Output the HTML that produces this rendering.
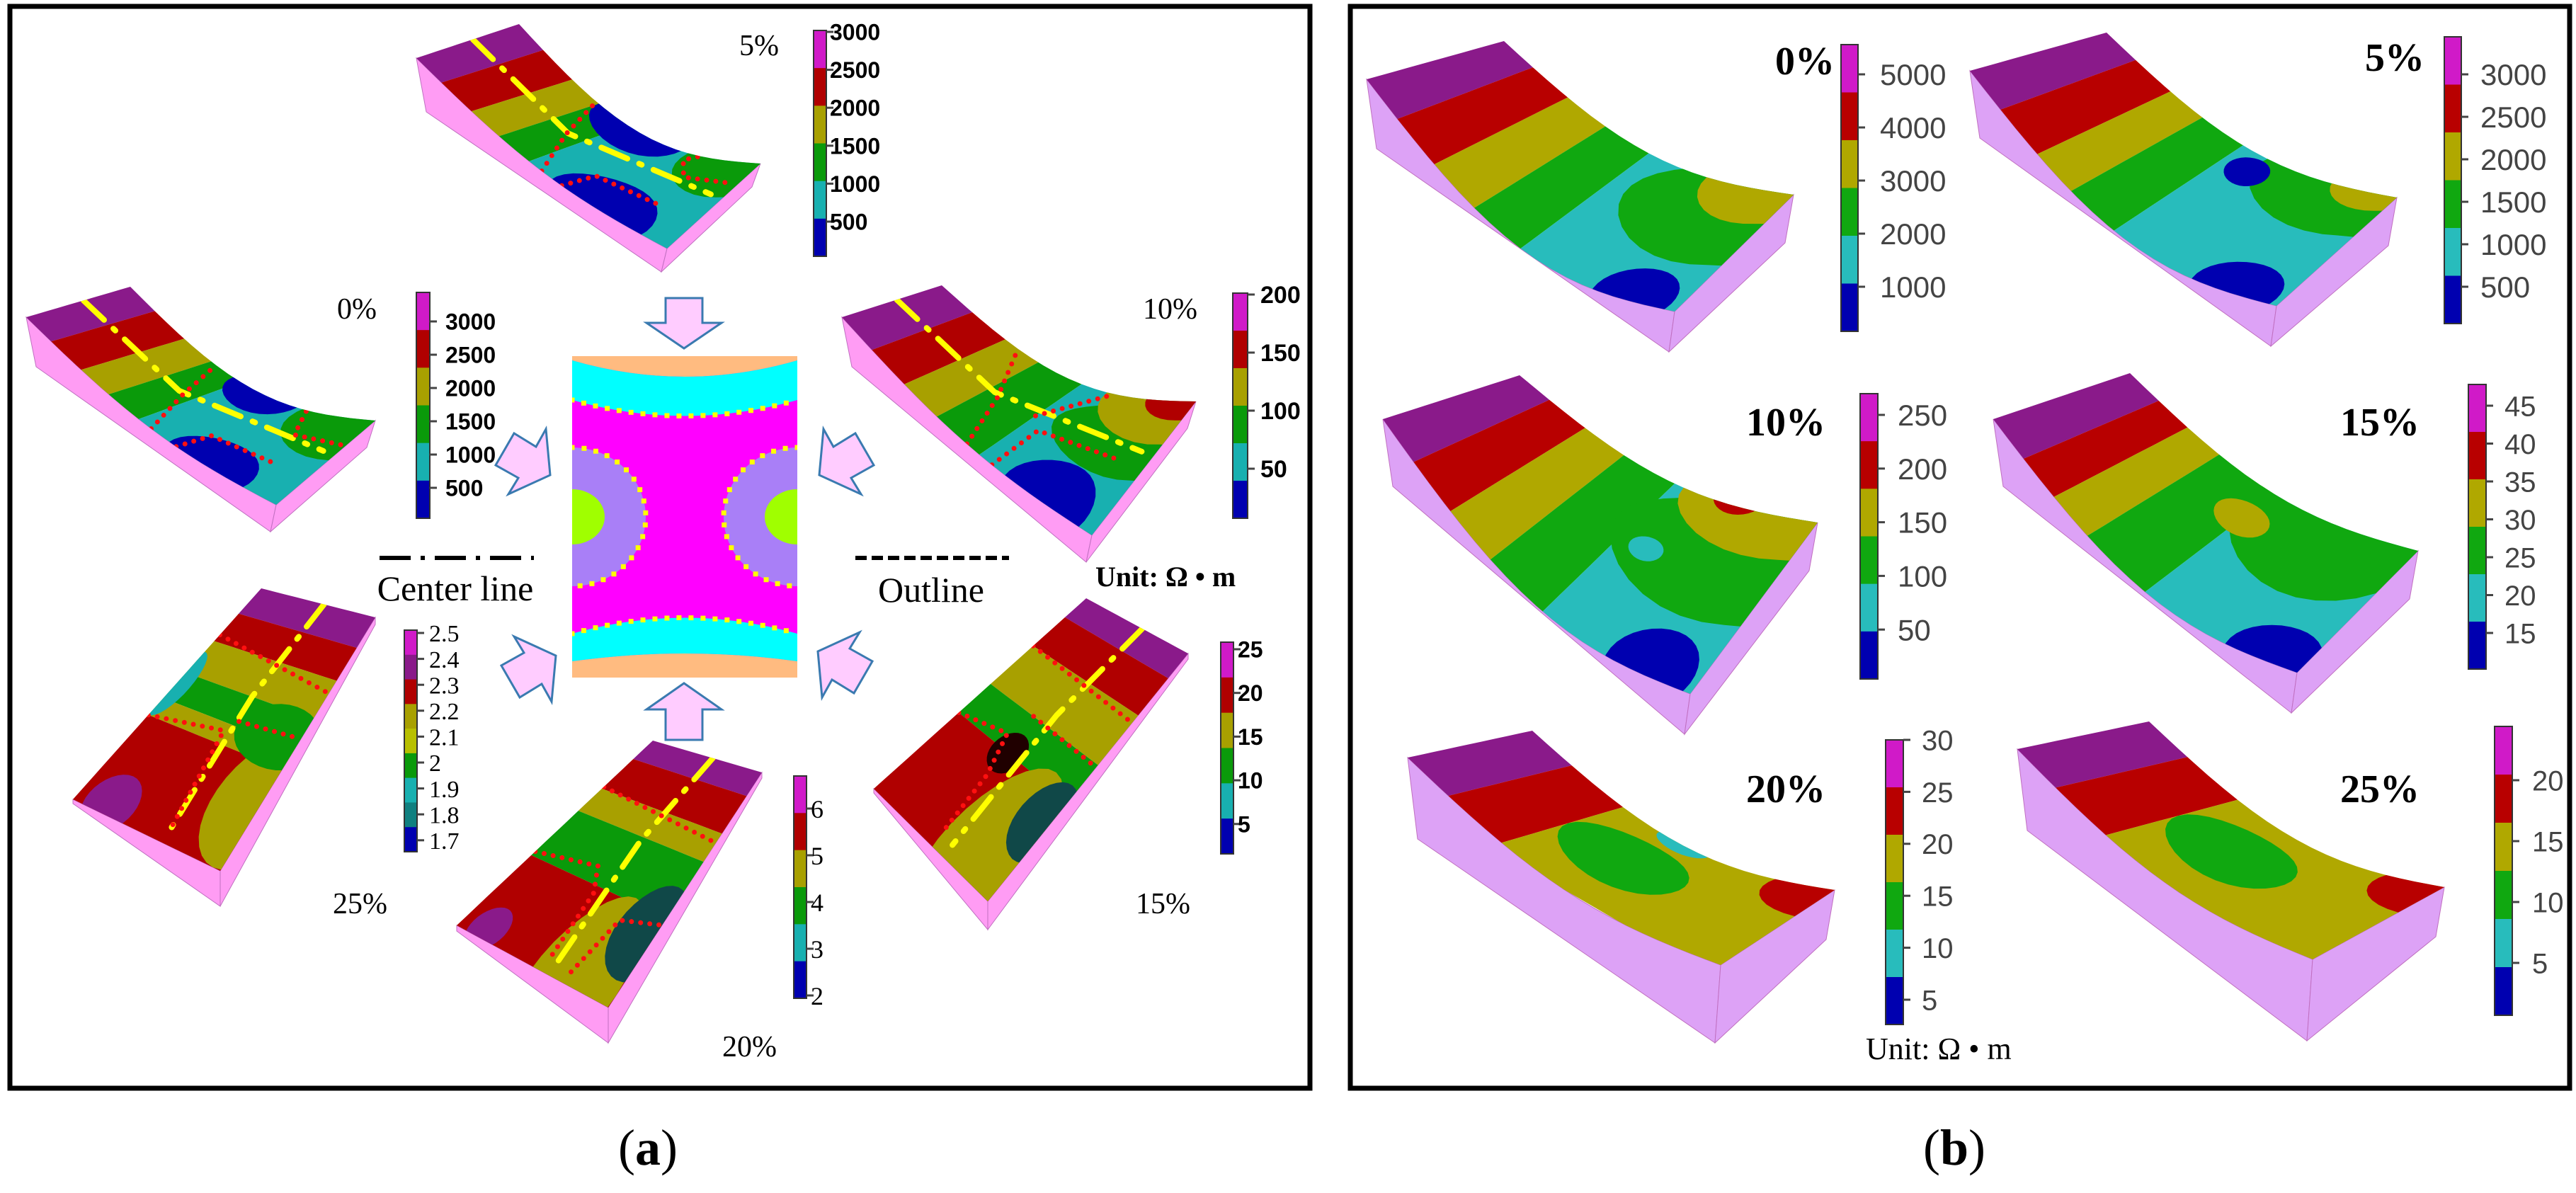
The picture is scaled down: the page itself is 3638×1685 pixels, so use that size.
<!DOCTYPE html>
<html><head><meta charset="utf-8">
<style>
html,body{margin:0;padding:0;background:#fff;}
svg{display:block;}
</style></head>
<body>
<svg id="fig" xmlns="http://www.w3.org/2000/svg" width="3638" height="1685" viewBox="0 0 3638 1685">
<rect x="0" y="0" width="3638" height="1685" fill="#fff"/>
<rect x="14" y="9" width="1836" height="1528" fill="none" stroke="#000" stroke-width="7"/>
<rect x="1907" y="9" width="1722" height="1528" fill="none" stroke="#000" stroke-width="7"/>
<g id="layer"></g>
<g>
  <defs><clipPath id="rc"><rect x="808" y="503" width="318" height="454"/></clipPath></defs>
  <g clip-path="url(#rc)">
    <rect x="808" y="503" width="318" height="454" fill="#ff00ff"/>
    <path d="M808,503 H1126 V509 Q967,555 808,509 Z" fill="#ffbb80"/>
    <path d="M808,509 Q967,555 1126,509 V565 Q967,610 808,565 Z" fill="#00ffff"/>
    <path d="M808,957 H1126 V934 Q967,912 808,934 Z" fill="#ffbb80"/>
    <path d="M808,934 Q967,912 1126,934 V895 Q967,850 808,895 Z" fill="#00ffff"/>
    <ellipse cx="808" cy="730" rx="104" ry="98" fill="#a97ff7"/>
    <ellipse cx="808" cy="730" rx="46" ry="39" fill="#a0ff00"/>
    <ellipse cx="1126" cy="730" rx="104" ry="98" fill="#a97ff7"/>
    <ellipse cx="1126" cy="730" rx="46" ry="39" fill="#a0ff00"/>
    <g fill="none" stroke="#ffff00" stroke-width="7" stroke-dasharray="0 17" stroke-linecap="square">
      <path d="M808,565 Q967,610 1126,565"/>
      <path d="M808,895 Q967,850 1126,895"/>
      <path d="M808,632 A104,98 0 0 1 808,828"/>
      <path d="M1126,632 A104,98 0 0 0 1126,828"/>
    </g>
  </g>
</g>
<g id="arrows"></g>
<g>
  <line x1="536" y1="788" x2="754" y2="788" stroke="#000" stroke-width="6" stroke-dasharray="44 14 6 14"/>
  <text x="643" y="848" text-anchor="middle" font-family="Liberation Serif, serif" font-size="50" fill="#000">Center line</text>
  <line x1="1208" y1="788" x2="1425" y2="788" stroke="#000" stroke-width="6" stroke-dasharray="16 7"/>
  <text x="1315" y="850" text-anchor="middle" font-family="Liberation Serif, serif" font-size="50" fill="#000">Outline</text>
  <text x="1547" y="828" font-family="Liberation Serif, serif" font-weight="bold" font-size="40" fill="#000">Unit: Ω • m</text>
  <text x="2635" y="1496" font-family="Liberation Serif, serif" font-size="44" fill="#000">Unit: Ω • m</text>
</g>
<text x="915" y="1645" text-anchor="middle" font-family="Liberation Serif, serif" font-size="72" fill="#000">(<tspan font-weight="bold">a</tspan>)</text>
<text x="2760" y="1645" text-anchor="middle" font-family="Liberation Serif, serif" font-size="72" fill="#000">(<tspan font-weight="bold">b</tspan>)</text>
</svg>
<script>
// ---- colorbar tick data ----
const ticksA0 = ["3000","2500","2000","1500","1000","500"];
const ticksA5 = ["3000","2500","2000","1500","1000","500"];
const ticksA10 = ["200","150","100","50"];
const ticksA15 = ["25","20","15","10","5"];
const ticksA20 = ["6","5","4","3","2"];
const ticksA25 = ["2.5","2.4","2.3","2.2","2.1","2","1.9","1.8","1.7"];
const ticksB0 = ["5000","4000","3000","2000","1000"];
const ticksB5 = ["3000","2500","2000","1500","1000","500"];
const ticksB10 = ["250","200","150","100","50"];
const ticksB15 = ["45","40","35","30","25","20","15"];
const ticksB20 = ["30","25","20","15","10","5"];
const ticksB25 = ["20","15","10","5"];
const percentLabels = ["0%","5%","10%","15%","20%","25%"];

const NS = "http://www.w3.org/2000/svg";
const layer = document.getElementById('layer');
function mk(tag, attrs, parent){
  const e = document.createElementNS(NS, tag);
  for (const k in attrs) e.setAttribute(k, attrs[k]);
  (parent||layer).appendChild(e);
  return e;
}
const C = {P:'#8a1a8a',M:'#d01ac8',R:'#b00000',O:'#a8a000',G:'#0a9a0a',Y:'#b8c000',
           Cy:'#18b0b0',B:'#0000b0',Rb:'#b80000',Ob:'#b0a800',Gb:'#10a810',Cb:'#28bcbc'};
const pinkA = '#ff9cf4', pinkB = '#dda2f6';

function surf(q,s,u,v){
  const [A,B,Cc,D]=q;
  const top=[A[0]+(B[0]-A[0])*u, A[1]+(B[1]-A[1])*u];
  const bot=[D[0]+(Cc[0]-D[0])*u, D[1]+(Cc[1]-D[1])*u];
  const sg = Math.sin(Math.PI*Math.min(Math.max(v,0),1))*(s[0]*(1-u)+s[1]*u);
  return [top[0]+(bot[0]-top[0])*v, top[1]+(bot[1]-top[1])*v + sg];
}
function ptsStr(a){return a.map(p=>p[0].toFixed(1)+','+p[1].toFixed(1)).join(' ');}
let clipId=0;
// o: {s:[sagL,sagR], faces:[...]} or {s, db, dl, dr} auto faces (left + front)
function block(id, q, o, pink, bands, blobs, lines){
  const s = o.s||[0,0];
  const g = mk('g',{});
  
  
  let faces = o.faces;
  if(!faces){
    const le=[]; for(let i=0;i<=20;i++) le.push(surf(q,s,0,i/20));
    const D=q[3], A=q[0], Cc=q[2];
    faces=[le.concat([[D[0]-8,D[1]+o.dl],[A[0]+14,A[1]+o.db]]),
           [D,Cc,[Cc[0]-12,Cc[1]+o.dr],[D[0]-8,D[1]+o.dl]]];
  }
  faces.forEach(f=>{
    const fp = mk('polygon',{points:ptsStr(f),fill:pink,stroke:'#c070c0','stroke-width':1},g);
    
    
  });
  const outline=[];
  for(let i=0;i<=10;i++) outline.push(surf(q,s,i/10,0));
  for(let i=0;i<=20;i++) outline.push(surf(q,s,1,i/20));
  for(let i=10;i>=0;i--) outline.push(surf(q,s,i/10,1));
  for(let i=20;i>=0;i--) outline.push(surf(q,s,0,i/20));
  const cid='cl'+(clipId++);
  const cp = mk('clipPath',{id:cid},g);
  mk('polygon',{points:ptsStr(outline)},cp);
  const tg = mk('g',{'clip-path':'url(#'+cid+')'},g);
  let v0=-0.05;
  bands.forEach(b=>{
    const v1=b[0]===1?1.05:b[0];
    const poly=[];
    for(let i=0;i<=10;i++) poly.push(surf(q,s,-0.1+1.2*i/10,v0));
    for(let i=10;i>=0;i--) poly.push(surf(q,s,-0.1+1.2*i/10,v1));
    const bp = mk('polygon',{points:ptsStr(poly),fill:b[1]},tg);
    
    
    v0=v1;
  });
  (blobs||[]).forEach(b=>{
    const pts=[];
    for(let i=0;i<32;i++){const t=i/32*Math.PI*2;pts.push(surf(q,s,b[0]+b[2]*Math.cos(t),b[1]+b[3]*Math.sin(t)));}
    const bl = mk('polygon',{points:ptsStr(pts),fill:b[4]},tg);
    
    
  });
  (lines||[]).forEach(l=>{
    const pts=l.pts.map(p=>surf(q,s,p[0],p[1]));
    const ln = mk('polyline',{points:ptsStr(pts),fill:'none',stroke:l.c,'stroke-width':l.w,'stroke-dasharray':l.d,'stroke-linecap':'round'},tg);
    
    
  });
}
function colorbar(id, x, y0, y1, w, colors, ticks, tickYs, font, size, weight, fill, labelX){
  const g = mk('g',{});
  
  
  const h=(y1-y0)/colors.length;
  colors.forEach((c,i)=>{
    const r = mk('rect',{x:x,y:y0+i*h,width:w,height:h+0.5,fill:c},g);
    
    
  });
  mk('rect',{x:x,y:y0,width:w,height:y1-y0,fill:'none',stroke:'#333','stroke-width':2},g);
  ticks.forEach((t,i)=>{
    const ty = tickYs(i);
    mk('line',{x1:x+w,y1:ty,x2:x+w+10,y2:ty,stroke:'#444','stroke-width':3},g);
    const tx = mk('text',{x:labelX,y:ty+size*0.36,'font-family':font,'font-size':size,'font-weight':weight,fill:fill},g);
    
    
    tx.textContent=t;
  });
}
function label(id, txt, x, y, size, bold){
  const t = mk('text',{x:x,y:y,'font-family':'Liberation Serif, serif','font-size':size,'font-weight':bold?'bold':'normal',fill:'#000'});
  
  
  t.textContent=txt;
}
const cl = {c:'#ffff00',w:8,d:'40 18 4 18',pts:[[0.55,0.0],[0.52,0.4],[0.6,0.95]]};
const rd = (pts)=>({c:'#ff1010',w:7,d:'0 13',pts:pts});
function off(p,dx,dy){return [p[0]+dx,p[1]+dy];}
const fsA='Liberation Sans, sans-serif';

// ===== Panel (a) =====
let q;
q=[[588,82],[733,34],[1074,231],[942,351]];
block('plot-a-5pct',q,{s:[25,55],db:76,dl:33,dr:33},pinkA,
 [[0.1,C.P],[0.22,C.R],[0.33,C.O],[0.45,C.G],[1,C.Cy]],
 [[0.05,0.72,0.35,0.18,C.B],[1.0,0.5,0.3,0.17,C.B],[1.0,0.9,0.45,0.2,C.G]],
 [cl,rd([[0,0.5],[0.5,0.4],[1,0.32]]),rd([[0,0.58],[0.3,0.6],[0.33,0.85]]),rd([[0.75,0.95],[0.7,0.8],[0.9,0.72],[1,0.75]])]);
colorbar('colorbar-a-5pct',1149,43,362,18,[C.M,C.R,C.O,C.G,C.Cy,C.B],ticksA5,i=>45+i*53.6,fsA,32,'bold','#000',1172);
label('label-a-5pct',percentLabels[1],1044,78,42,false);

q=[[37,448],[184,405],[530,594],[390,713]];
block('plot-a-0pct',q,{s:[25,50],db:70,dl:38,dr:38},pinkA,
 [[0.1,C.P],[0.22,C.R],[0.33,C.O],[0.45,C.G],[1,C.Cy]],
 [[0.05,0.72,0.3,0.15,C.B],[1.0,0.55,0.28,0.13,C.B],[0.95,0.92,0.45,0.22,C.G]],
 [cl,rd([[0,0.5],[0.5,0.42],[1,0.35]]),rd([[0,0.6],[0.3,0.62],[0.33,0.85]]),rd([[0.7,0.98],[0.68,0.8],[1,0.72]])]);
colorbar('colorbar-a-0pct',588,413,732,19,[C.M,C.R,C.O,C.G,C.Cy,C.B],ticksA0,i=>454+i*47,fsA,32,'bold','#000',629);
label('label-a-0pct',percentLabels[0],476,450,42,false);

q=[[1189,448],[1330,403],[1689,567],[1542,756]];
block('plot-a-10pct',q,{s:[25,50],db:70,dl:38,dr:38},pinkA,
 [[0.12,C.P],[0.25,C.R],[0.38,C.O],[0.55,C.G],[1,C.Cy]],
 [[0.05,0.8,0.3,0.15,C.B],[0.65,0.85,0.3,0.25,C.G],[1.0,0.9,0.35,0.25,C.O],[1.05,0.95,0.2,0.15,C.R]],
 [cl,rd([[0,0.5],[0.5,0.42],[1,0.3]]),rd([[0,0.6],[0.45,0.6],[0.5,0.9]]),rd([[0.55,0.55],[1,0.68]])]);
colorbar('colorbar-a-10pct',1741,414,732,21,[C.M,C.R,C.O,C.G,C.Cy,C.B],ticksA10,i=>416+i*82,fsA,34,'bold','#000',1780);
label('label-a-10pct',percentLabels[2],1614,450,42,false);

q=[[369,831],[530,872],[311,1230],[103,1129]];
block('plot-a-25pct',q,{faces:[[q[3],q[2],off(q[2],0,50),off(q[3],0,6)],[q[2],q[1],off(q[1],0,10),off(q[2],0,50)]]},pinkA,
 [[0.12,C.P],[0.25,C.R],[0.4,C.O],[0.52,C.G],[0.6,C.O],[1,C.R]],
 [[0.0,0.45,0.1,0.15,C.Cy],[0.2,0.95,0.15,0.12,C.P],[0.95,0.75,0.25,0.25,C.O],[0.85,0.5,0.3,0.12,C.G]],
 [cl,rd([[0,0.22],[1,0.3]]),rd([[0,0.6],[0.5,0.55],[0.6,0.95]]),rd([[0.55,0.5],[1,0.48]])]);
colorbar('colorbar-a-25pct',571,890,1203,18,[C.M,C.P,C.R,C.O,C.Y,C.G,C.Cy,'#108080',C.B],ticksA25,i=>894+i*36.6,'Liberation Serif, serif',34,'normal','#000',606);
label('label-a-25pct',percentLabels[5],470,1290,42,false);

q=[[922,1046],[1076,1091],[859,1423],[645,1307]];
block('plot-a-20pct',q,{faces:[[q[3],q[2],off(q[2],0,50),off(q[3],0,8)],[q[2],q[1],off(q[1],0,8),off(q[2],0,50)]]},pinkA,
 [[0.1,C.P],[0.26,C.R],[0.38,C.O],[0.62,C.G],[1,C.R]],
 [[0.15,0.95,0.1,0.1,C.P],[0.75,0.95,0.25,0.35,C.O],[0.95,0.7,0.2,0.2,'#104848']],
 [cl,rd([[0,0.25],[1,0.3]]),rd([[0,0.6],[0.4,0.55],[0.5,0.65],[0.55,0.95]]),rd([[0.7,0.95],[0.75,0.7],[1,0.65]])]);
colorbar('colorbar-a-20pct',1121,1096,1410,18,[C.M,C.R,C.O,C.G,C.Cy,C.B],ticksA20,i=>1142+i*66,'Liberation Serif, serif',36,'normal','#000',1145);
label('label-a-20pct',percentLabels[4],1020,1492,42,false);

q=[[1534,845],[1678,923],[1395,1273],[1234,1114]];
block('plot-a-15pct',q,{faces:[[q[3],q[2],off(q[2],0,40),off(q[3],0,6)],[q[2],q[1],off(q[1],0,8),off(q[2],0,40)]]},pinkA,
 [[0.1,C.P],[0.25,C.R],[0.45,C.O],[0.6,C.G],[1,C.R]],
 [[0.8,0.9,0.3,0.35,C.O],[0.95,0.7,0.18,0.15,'#104848'],[0.45,0.6,0.12,0.08,'#200000']],
 [cl,rd([[0,0.25],[1,0.28]]),rd([[0,0.6],[0.35,0.55],[0.45,0.7],[0.5,0.95]]),rd([[0.4,0.45],[1,0.46]])]);
colorbar('colorbar-a-15pct',1724,907,1206,18,[C.M,C.R,C.O,C.G,C.Cy,C.B],ticksA15,i=>917+i*61.7,fsA,32,'bold','#000',1748);
label('label-a-15pct',percentLabels[3],1604,1290,42,false);

// ===== Panel (b) =====
const fs='Liberation Sans, sans-serif';
block('plot-b-0pct',[[1930,112],[2124,58],[2533,275],[2365,440]],{s:[75,50],db:98,dl:57,dr:68},pinkB,
 [[0.1,C.P],[0.22,C.Rb],[0.35,C.Ob],[0.5,C.Gb],[1,C.Cb]],
 [[0.05,0.85,0.22,0.12,C.B],[0.75,0.85,0.4,0.3,C.Gb],[1.0,0.9,0.28,0.2,C.Ob]]);
colorbar('colorbar-b-0pct',2600,63,468,24,[C.M,C.Rb,C.Ob,C.Gb,C.Cb,C.B],ticksB0,i=>105+i*75,fs,42,'normal','#444',2655);
label('label-b-0pct',percentLabels[0],2507,105,56,true);

block('plot-b-5pct',[[2782,100],[2975,46],[3385,279],[3215,432]],{s:[70,50],db:95,dl:57,dr:68},pinkB,
 [[0.1,C.P],[0.22,C.Rb],[0.33,C.Ob],[0.47,C.Gb],[1,C.Cb]],
 [[0.05,0.85,0.22,0.13,C.B],[0.95,0.85,0.35,0.3,C.Gb],[1.05,0.92,0.2,0.15,C.Ob],[0.85,0.55,0.12,0.06,C.B]]);
colorbar('colorbar-b-5pct',3452,52,457,24,[C.M,C.Rb,C.Ob,C.Gb,C.Cb,C.B],ticksB5,i=>105+i*60,fs,42,'normal','#444',3503);
label('label-b-5pct',percentLabels[1],3340,100,56,true);

block('plot-b-10pct',[[1953,592],[2146,530],[2567,738],[2387,980]],{s:[70,45],db:95,dl:57,dr:68},pinkB,
 [[0.1,C.P],[0.22,C.Rb],[0.35,C.Ob],[0.52,C.Gb],[1,C.Cb]],
 [[0.05,0.85,0.22,0.13,C.B],[0.7,0.82,0.35,0.35,C.Gb],[1.0,0.85,0.25,0.3,C.Ob],[1.05,0.72,0.1,0.08,C.Rb],[0.6,0.6,0.07,0.05,C.Cb]]);
colorbar('colorbar-b-10pct',2627,556,959,25,[C.M,C.Rb,C.Ob,C.Gb,C.Cb,C.B],ticksB10,i=>586+i*75.8,fs,42,'normal','#444',2680);
label('label-b-10pct',percentLabels[2],2466,615,56,true);

block('plot-b-15pct',[[2815,592],[3008,527],[3415,778],[3244,950]],{s:[65,45],db:95,dl:57,dr:68},pinkB,
 [[0.1,C.P],[0.2,C.Rb],[0.31,C.Ob],[0.5,C.Gb],[1,C.Cb]],
 [[0.05,0.9,0.22,0.14,C.B],[0.9,0.75,0.45,0.3,C.Gb],[0.75,0.5,0.12,0.08,C.Ob]]);
colorbar('colorbar-b-15pct',3486,543,945,25,[C.M,C.Rb,C.Ob,C.Gb,C.Cb,C.B],ticksB15,i=>573+i*53.5,fs,40,'normal','#444',3537);
label('label-b-15pct',percentLabels[3],3305,615,56,true);

block('plot-b-20pct',[[1988,1070],[2164,1032],[2591,1257],[2430,1363]],{s:[40,50],db:115,dl:110,dr:70},pinkB,
 [[0.13,C.P],[0.3,C.Rb],[1,C.Ob]],
 [[0.55,0.48,0.3,0.18,C.Gb],[0.95,1.0,0.3,0.2,C.Rb],[1.0,0.5,0.1,0.08,C.Cb]]);
colorbar('colorbar-b-20pct',2663,1045,1447,25,[C.M,C.Rb,C.Ob,C.Gb,C.Cb,C.B],ticksB20,i=>1045+i*73.4,fs,40,'normal','#444',2714);
label('label-b-20pct',percentLabels[4],2466,1133,56,true);

block('plot-b-25pct',[[2849,1058],[3035,1019],[3452,1253],[3266,1355]],{s:[40,50],db:115,dl:115,dr:70},pinkB,
 [[0.13,C.P],[0.3,C.Rb],[1,C.Ob]],
 [[0.55,0.48,0.3,0.18,C.Gb],[0.95,1.0,0.3,0.2,C.Rb]]);
colorbar('colorbar-b-25pct',3523,1026,1434,25,[C.M,C.Rb,C.Ob,C.Gb,C.Cb,C.B],ticksB25,i=>1102+i*86,fs,40,'normal','#444',3576);
label('label-b-25pct',percentLabels[5],3305,1133,56,true);

// ===== arrows =====
const ag = document.getElementById('arrows');
function poly(id, pts){
  const a = mk('polygon',{points:ptsStr(pts),fill:'#ffccff',stroke:'#3a7ab0','stroke-width':3},ag);
  
  
}
const diag=[[-77,-14],[-51,-59],[-20,-40],[-6,-65],[0,0],[-59,27],[-45,4]];
function diagArrow(id, tip, sx, sy){ poly(id, diag.map(p=>[tip[0]+p[0]*sx, tip[1]+p[1]*sy])); }
diagArrow('arrow-left-top',[777,671],1,1);
diagArrow('arrow-right-top',[1157,671],-1,1);
diagArrow('arrow-left-bottom',[785,926],1,-1);
diagArrow('arrow-right-bottom',[1155,920],-1,-1);
poly('arrow-top',[[940,421],[992,421],[992,456],[1019,456],[966,492],[913,456],[940,456]]);
poly('arrow-bottom',[[940,1045],[992,1045],[992,1002],[1019,1002],[966,965],[913,1002],[940,1002]]);
</script>
</body></html>
